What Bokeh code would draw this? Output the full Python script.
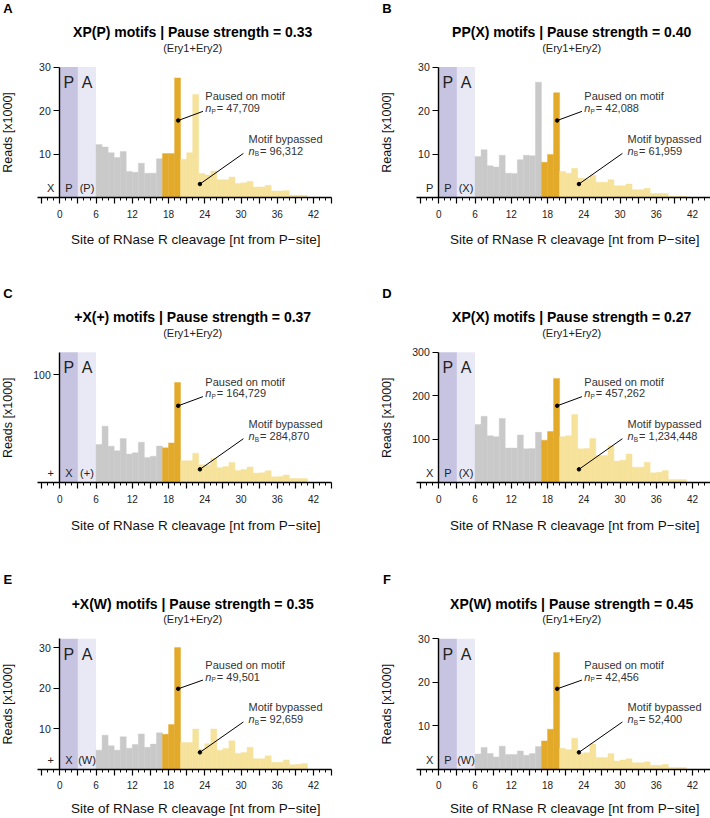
import math
from bokeh.plotting import figure
from bokeh.models import Range1d, FixedTicker, Label, ColumnDataSource
from bokeh.layouts import column, row
from bokeh.embed import file_html
from bokeh.resources import INLINE

# ---------------- data ----------------
sites = list(range(6, 41))          # left edge of each 1-nt cleavage bin
paused_sites = [17, 18, 19]         # bins "paused on motif"
P_site = [0, 3]
A_site = [3, 6]

letters = ["A", "B", "C", "D", "E", "F"]
titles = [
    "XP(P) motifs | Pause strength = 0.33",
    "PP(X) motifs | Pause strength = 0.40",
    "+X(+) motifs | Pause strength = 0.37",
    "XP(X) motifs | Pause strength = 0.27",
    "+X(W) motifs | Pause strength = 0.35",
    "XP(W) motifs | Pause strength = 0.45",
]
residues = [
    ["X", "P", "(P)"],
    ["P", "P", "(X)"],
    ["+", "X", "(+)"],
    ["X", "P", "(X)"],
    ["+", "X", "(W)"],
    ["X", "P", "(W)"],
]
n_paused = ["47,709", "42,088", "164,729", "457,262", "49,501", "42,456"]
n_bypassed = ["96,312", "61,959", "284,870", "1,234,448", "92,659", "52,400"]

reads_A = [12.2, 11.6, 10.3, 9.2, 10.6, 6.0, 5.8, 7.9, 5.6, 5.6, 8.9,
           10.1, 10.1, 27.5,
           8.8, 10.3, 23.7, 5.5, 5.2, 6.1, 4.1, 4.1, 4.7, 3.2, 3.4, 3.7,
           2.4, 2.4, 2.8, 1.5, 1.5, 1.6, 0.5, 0.5, 0.5]
reads_B = [9.4, 11.0, 7.3, 7.0, 9.7, 5.6, 5.5, 8.7, 9.7, 9.6, 26.5,
           8.1, 9.9, 24.1,
           6.0, 5.6, 6.7, 4.4, 4.3, 5.1, 3.5, 3.5, 4.1, 2.7, 2.7, 3.1,
           1.8, 1.8, 2.1, 0.9, 0.9, 0.9, 0.3, 0.3, 0.3]
reads_C = [35.5, 52.5, 34.0, 29.7, 41.0, 26.6, 27.8, 37.7, 23.5, 24.7, 34.1,
           32.4, 37.0, 93.0,
           20.5, 20.5, 27.5, 16.7, 16.7, 22.5, 14.0, 15.0, 18.8, 11.3, 12.4, 14.7,
           9.0, 9.3, 11.2, 5.5, 5.8, 7.3, 4.0, 4.0, 4.0]
reads_D = [134, 153, 108, 106, 148, 80, 80, 110, 78, 79, 116,
           98, 118, 240,
           106, 108, 157, 78, 79, 102, 63, 63, 85, 50, 52, 66,
           36, 36, 47, 23, 24, 28, 7.5, 7.5, 7.5]
reads_E = [4.7, 8.4, 5.8, 4.7, 8.0, 5.2, 6.1, 8.7, 5.4, 6.2, 9.0,
           8.6, 11.0, 30.0,
           6.6, 6.6, 9.9, 5.0, 6.3, 9.9, 4.7, 5.1, 7.0, 3.9, 4.1, 5.4,
           2.6, 2.6, 3.3, 1.7, 1.7, 2.3, 1.1, 1.2, 1.4]
reads_F = [3.5, 5.0, 3.6, 2.8, 5.3, 3.4, 3.4, 4.2, 3.2, 3.6, 5.2,
           6.5, 9.2, 26.8,
           4.8, 4.5, 7.1, 3.6, 3.8, 5.8, 2.7, 2.7, 3.6, 1.9, 2.1, 2.4,
           1.5, 1.5, 1.7, 0.9, 0.9, 1.1, 0.4, 0.4, 0.4]
reads = [reads_A, reads_B, reads_C, reads_D, reads_E, reads_F]

y_max = [30, 30, 121, 300, 32.2, 30]
y_ticks = [[10, 20, 30], [10, 20, 30], [100], [100, 200, 300], [10, 20, 30], [10, 20, 30]]

# ---------------- style / layout ----------------
FONT = "Liberation Sans"
C_P = "#c7c4e2"
C_A = "#e9e9f6"
C_GRAY = "#c9c9c9"
C_DARK = "#e3aa2a"
C_LIGHT = "#f6e29a"
TXT = "#222222"
ANN = "#333333"

PX_NT = 6.04                   # pixels per nucleotide
AXIS_PX = [59.3, 83.3]         # y-axis position inside each column figure
FIG_W = 355
ROW_H = [270, 284, 264]
AXIS_FROM_BOTTOM = [73, 71.7, 49.3]   # x-axis distance above figure bottom
XLABEL_DY = [-42, -42.5, -39.5]
FRAME_PX = 130.5               # pixel height of the y range

FR = [
    dict(t1=0.775, n1=0.685, d1=0.59, e1=0.66, t2=0.45, n2=0.357, d2=0.103, e2=0.338),
    dict(t1=0.80, n1=0.708, d1=0.616, e1=0.683, t2=0.478, n2=0.383, d2=0.129, e2=0.362),
]


def panel(i):
    col, rw = i % 2, i // 2
    ym = y_max[i]
    ppu = FRAME_PX / ym
    bot = AXIS_FROM_BOTTOM[rw]
    x0 = -AXIS_PX[col] / PX_NT
    x1 = (FIG_W - AXIS_PX[col]) / PX_NT
    y0 = -bot / ppu
    y1 = (ROW_H[rw] - bot) / ppu
    p = figure(width=FIG_W, height=ROW_H[rw],
               x_range=Range1d(x0, x1), y_range=Range1d(y0, y1),
               min_border_left=0, min_border_right=0,
               min_border_top=0, min_border_bottom=0,
               output_backend="svg", toolbar_location=None)
    p.outline_line_color = None
    p.grid.visible = False
    p.background_fill_color = "white"
    p.border_fill_color = "white"

    def lab(text, x, y, screen=False, size="11px", style="normal", align="left",
            color=TXT, angle=0.0, xo=0, yo=0):
        # screen=True: y is a pixel distance above the x axis
        p.add_layout(Label(x=x, y=(y + bot) if screen else y,
                           x_units="data", y_units="screen" if screen else "data",
                           text=text, text_font=FONT, text_font_size=size,
                           text_font_style=style, text_align=align,
                           text_baseline="middle", text_color=color,
                           angle=angle, x_offset=xo, y_offset=yo))

    # P / A site shading
    p.quad(left=[P_site[0], A_site[0]], right=[P_site[1], A_site[1]],
           bottom=0, top=ym, fill_color=[C_P, C_A], line_color=None)

    colors = [C_GRAY if s < min(paused_sites) else (C_DARK if s in paused_sites else C_LIGHT)
              for s in sites]
    src = ColumnDataSource(dict(left=sites, right=[s + 1 for s in sites],
                                top=reads[i], color=colors))
    p.quad(left="left", right="right", bottom=0, top="top", fill_color="color",
           line_color="color", line_width=0.4, source=src)

    # x axis, pinned at y = 0
    xa = p.xaxis[0]
    xa.fixed_location = 0
    xt = list(range(-3, 46, 3))
    xa.bounds = (-3.7, 44.95)
    xa.ticker = FixedTicker(ticks=xt, minor_ticks=list(range(-3, 45)))
    xa.major_label_overrides = {t: "" for t in xt if t % 6 != 0 or t < 0}
    xa.axis_line_width = 1.4
    xa.major_tick_out = 6
    xa.major_tick_in = 0
    xa.minor_tick_out = 3
    xa.minor_tick_in = 0
    xa.major_tick_line_width = 1.2
    xa.minor_tick_line_width = 1
    xa.major_label_text_font = FONT
    xa.major_label_text_font_size = "10px"
    xa.major_label_text_color = TXT
    xa.major_label_standoff = 6

    # y axis, pinned at x = 0
    ya = p.yaxis[0]
    ya.fixed_location = 0
    ya.bounds = (0, ym)
    ya.ticker = FixedTicker(ticks=y_ticks[i], minor_ticks=[])
    ya.axis_line_width = 1.4
    ya.major_tick_out = 6
    ya.major_tick_in = 0
    ya.major_tick_line_width = 1.2
    ya.minor_tick_line_color = None
    ya.major_label_text_font = FONT
    ya.major_label_text_font_size = "10.5px"
    ya.major_label_text_color = TXT
    ya.major_label_standoff = 3

    # header / axis-title texts
    lab(letters[i], -8.6, 189.5, screen=True, size="13px", style="bold",
        align="center", color="black")
    lab(titles[i], 22, 165.7, screen=True, size="14px", style="bold",
        align="center", color="black")
    lab("(Ery1+Ery2)", 22, 150, screen=True, size="11px", align="center")
    lab("Reads [x1000]", -8.6, 65, screen=True, size="12.5px", align="center",
        color="#111111", angle=math.pi / 2)
    lab("Site of RNase R cleavage [nt from P\u2212site]", 22.5, XLABEL_DY[rw],
        screen=True, size="13.5px", align="center", color="#111111")

    # site letters
    lab("P", (P_site[0] + P_site[1]) / 2, 115, screen=True, size="16px", align="center")
    lab("A", (A_site[0] + A_site[1]) / 2, 115, screen=True, size="16px", align="center")
    for xr, r in zip([-1.5, 1.5, 4.5], residues[i]):
        lab(r, xr, 9.7, screen=True, size="11px", align="center")

    # annotations
    f = FR[0] if rw < 2 else FR[1]
    p.segment(x0=[19.6, 23.2], y0=[f["d1"] * ym, f["d2"] * ym],
              x1=[23.7, 30.4], y1=[f["e1"] * ym, f["e2"] * ym],
              line_color="black", line_width=1)
    p.scatter(x=[19.6, 23.2], y=[f["d1"] * ym, f["d2"] * ym], size=3.5,
              color="black")
    lab("Paused on motif", 24.1, f["t1"] * ym, color=ANN)
    lab("n", 24.1, f["n1"] * ym, style="italic", color=ANN)
    lab("P", 24.1, f["n1"] * ym, size="6.5px", color=ANN, xo=6.2, yo=-3)
    lab("= " + n_paused[i], 24.1, f["n1"] * ym, color=ANN, xo=11.5)
    lab("Motif bypassed", 31.25, f["t2"] * ym, color=ANN)
    lab("n", 31.25, f["n2"] * ym, style="italic", color=ANN)
    lab("B", 31.25, f["n2"] * ym, size="6.5px", color=ANN, xo=6.2, yo=-3)
    lab("= " + n_bypassed[i], 31.25, f["n2"] * ym, color=ANN, xo=11.5)
    return p


plots = [panel(i) for i in range(6)]
layout = column(row(plots[0], plots[1]), row(plots[2], plots[3]), row(plots[4], plots[5]))

open("out.html", "w").write(file_html(layout, INLINE))
